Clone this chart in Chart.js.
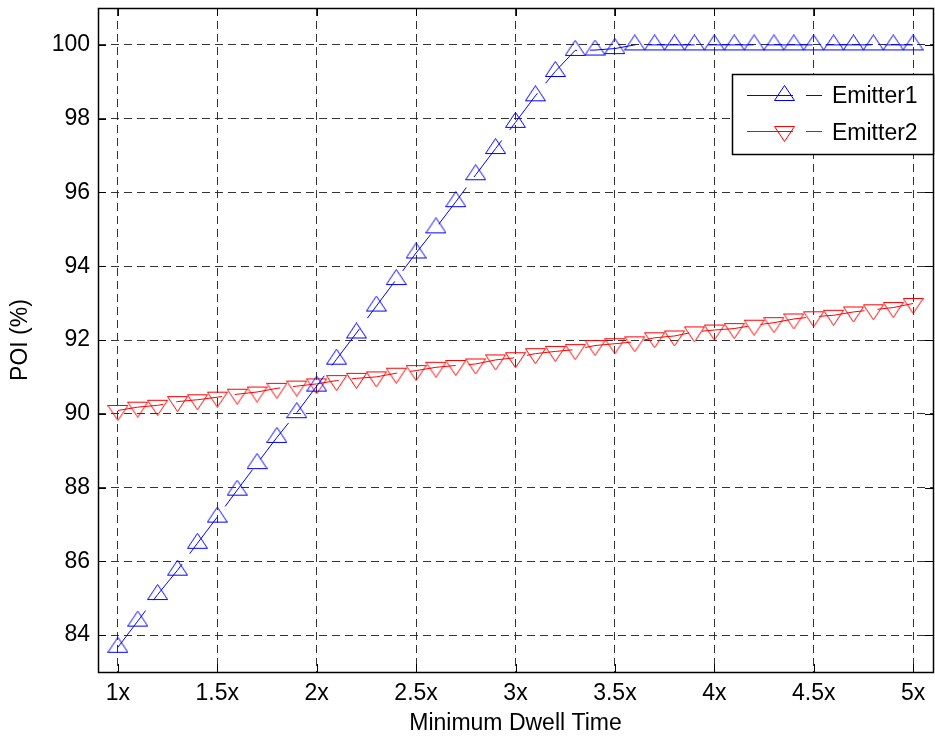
<!DOCTYPE html>
<html>
<head>
<meta charset="utf-8">
<script src="https://cdn.jsdelivr.net/npm/chart.js@4"></script>
<style>
    html, body { margin: 0; padding: 0; background: #fff; }
    #poiChart { display: block; }
</style>
</head>
<body>
<canvas id="poiChart" width="935" height="740"></canvas>
<script>
// Minimum dwell time multiples (x values)
const dwellTimes = [1.0, 1.1, 1.2, 1.3, 1.4, 1.5, 1.6, 1.7, 1.8, 1.9,
                    2.0, 2.1, 2.2, 2.3, 2.4, 2.5, 2.6, 2.7, 2.8, 2.9,
                    3.0, 3.1, 3.2, 3.3, 3.4, 3.5, 3.6, 3.7, 3.8, 3.9,
                    4.0, 4.1, 4.2, 4.3, 4.4, 4.5, 4.6, 4.7, 4.8, 4.9, 5.0];

// POI (%) for each emitter
const emitter1 = [83.67, 84.38, 85.10, 85.76, 86.49, 87.20, 87.93, 88.65, 89.36, 90.03,
                  90.75, 91.48, 92.19, 92.92, 93.64, 94.36, 95.04, 95.75, 96.48, 97.19,
                  97.90, 98.62, 99.28, 99.85, 99.86, 99.90, 100, 100, 100, 100,
                  100, 100, 100, 100, 100, 100, 100, 100, 100, 100, 100];
const emitter2 = [90.09, 90.18, 90.23, 90.33, 90.38, 90.45, 90.53, 90.59, 90.69, 90.75,
                  90.81, 90.90, 90.96, 91.00, 91.10, 91.17, 91.26, 91.31, 91.35, 91.46,
                  91.52, 91.63, 91.69, 91.74, 91.85, 91.90, 91.95, 92.06, 92.11, 92.22,
                  92.27, 92.31, 92.40, 92.47, 92.57, 92.63, 92.67, 92.76, 92.82, 92.88, 92.99];

// Axis ticks
const xTickValues = [1, 1.5, 2, 2.5, 3, 3.5, 4, 4.5, 5];
const xTickLabels = ['1x', '1.5x', '2x', '2.5x', '3x', '3.5x', '4x', '4.5x', '5x'];
const yTickValues = [84, 86, 88, 90, 92, 94, 96, 98, 100];

const FONT = 'Arial, "Liberation Sans", sans-serif';
const DASH = [46, 13];

// MATLAB-like hollow triangle markers, centroid at the canvas centre
function makeTriangle(color, down) {
    const c = document.createElement('canvas');
    c.width = 21;
    c.height = 21;
    const g = c.getContext('2d');
    g.strokeStyle = color;
    g.lineWidth = 1;
    g.beginPath();
    if (down) {
        g.moveTo(0.5, 5.5);
        g.lineTo(20.5, 5.5);
        g.lineTo(10.5, 20.5);
    } else {
        g.moveTo(10.5, 0.5);
        g.lineTo(20.5, 15.5);
        g.lineTo(0.5, 15.5);
    }
    g.closePath();
    g.stroke();
    return c;
}
const upMarker = makeTriangle('#0000ff', false);
const downMarker = makeTriangle('#ff0000', true);

function toPoints(values) {
    return dwellTimes.map((x, i) => ({ x: x, y: values[i] }));
}

// Box around plot area plus inward tick marks on all four sides
const boxPlugin = {
    id: 'matlabBox',
    afterDatasetsDraw(chart) {
        const ctx = chart.ctx;
        const a = chart.chartArea;
        const xs = chart.scales.x;
        const ys = chart.scales.y;
        const len = 8;
        ctx.save();
        ctx.strokeStyle = '#000';
        ctx.lineWidth = 1;
        ctx.beginPath();
        xTickValues.forEach(v => {
            const px = Math.round(xs.getPixelForValue(v)) + 0.5;
            ctx.moveTo(px, a.bottom);
            ctx.lineTo(px, a.bottom - len);
            ctx.moveTo(px, a.top);
            ctx.lineTo(px, a.top + len);
        });
        yTickValues.forEach(v => {
            const py = Math.round(ys.getPixelForValue(v)) + 0.5;
            ctx.moveTo(a.left, py);
            ctx.lineTo(a.left + len, py);
            ctx.moveTo(a.right, py);
            ctx.lineTo(a.right - len, py);
        });
        ctx.stroke();
        ctx.lineWidth = 1.5;
        ctx.strokeRect(Math.round(a.left) + 0.5, Math.round(a.top) + 0.5,
                       Math.round(a.right - a.left), Math.round(a.bottom - a.top));
        ctx.restore();
    }
};

// Legend box in the upper right of the plot
const legendPlugin = {
    id: 'matlabLegend',
    afterDraw(chart) {
        const ctx = chart.ctx;
        const left = 732, top = 74, w = 201, h = 80;
        ctx.save();
        ctx.fillStyle = '#fff';
        ctx.fillRect(left, top, w, h);
        ctx.strokeStyle = '#000';
        ctx.lineWidth = 1.5;
        ctx.strokeRect(left + 0.5, top + 0.5, w, h);
        const rows = [
            { ds: chart.data.datasets[0], y: 95, textY: 96, marker: upMarker },
            { ds: chart.data.datasets[1], y: 131, textY: 133, marker: downMarker }
        ];
        rows.forEach(r => {
            ctx.strokeStyle = r.ds.borderColor;
            ctx.lineWidth = 1;
            ctx.setLineDash(DASH);
            ctx.beginPath();
            ctx.moveTo(747, r.y + 0.5);
            ctx.lineTo(822, r.y + 0.5);
            ctx.stroke();
            ctx.setLineDash([]);
            ctx.drawImage(r.marker, 774, r.y - 10);
            ctx.fillStyle = '#000';
            ctx.font = '23px ' + FONT;
            ctx.textAlign = 'left';
            ctx.textBaseline = 'middle';
            ctx.fillText(r.ds.label, 832, r.textY + 1);
        });
        ctx.restore();
    }
};

const ctx = document.getElementById('poiChart').getContext('2d');
const poiChart = new Chart(ctx, {
    type: 'line',
    data: {
        datasets: [{
            label: 'Emitter1',
            data: toPoints(emitter1),
            borderColor: '#0000ff',
            borderWidth: 1,
            borderDash: DASH,
            pointStyle: upMarker,
            pointRadius: 10,
            tension: 0,
            fill: false
        }, {
            label: 'Emitter2',
            data: toPoints(emitter2),
            borderColor: '#ff0000',
            borderWidth: 1,
            borderDash: DASH,
            pointStyle: downMarker,
            pointRadius: 10,
            tension: 0,
            fill: false
        }]
    },
    options: {
        responsive: false,
        devicePixelRatio: 1,
        animation: false,
        layout: {
            autoPadding: false,
            padding: { left: 0, right: 2, top: 8, bottom: 0 }
        },
        plugins: {
            legend: { display: false },
            tooltip: { enabled: false }
        },
        scales: {
            x: {
                type: 'linear',
                min: 0.9,
                max: 5.1,
                afterBuildTicks: function(scale) {
                    scale.ticks = xTickValues.map(v => ({ value: v }));
                },
                afterFit: function(scale) {
                    scale.height = 68;
                    scale.paddingLeft = 0;
                    scale.paddingRight = 0;
                },
                ticks: {
                    color: '#000',
                    padding: 8,
                    maxRotation: 0,
                    font: { family: FONT, size: 23 },
                    callback: function(value, index) {
                        return xTickLabels[index];
                    }
                },
                grid: {
                    color: '#333',
                    lineWidth: 1,
                    drawTicks: false
                },
                border: { display: false, dash: [8, 5] },
                title: {
                    display: true,
                    text: 'Minimum Dwell Time',
                    color: '#000',
                    font: { family: FONT, size: 23 },
                    padding: { top: 0, bottom: 3 }
                }
            },
            y: {
                min: 83,
                max: 101,
                afterBuildTicks: function(scale) {
                    scale.ticks = yTickValues.map(v => ({ value: v }));
                },
                afterFit: function(scale) {
                    scale.width = 98;
                    scale.paddingTop = 0;
                    scale.paddingBottom = 0;
                },
                ticks: {
                    color: '#000',
                    padding: 8,
                    font: { family: FONT, size: 23 },
                    callback: function(value) {
                        return String(value);
                    }
                },
                grid: {
                    color: '#333',
                    lineWidth: 1,
                    drawTicks: false
                },
                border: { display: false, dash: [8, 5] },
                title: {
                    display: true,
                    text: 'POI (%)',
                    color: '#000',
                    font: { family: FONT, size: 23 },
                    padding: { top: 7, bottom: 0 }
                }
            }
        }
    },
    plugins: [boxPlugin, legendPlugin]
});
</script>
</body>
</html>
